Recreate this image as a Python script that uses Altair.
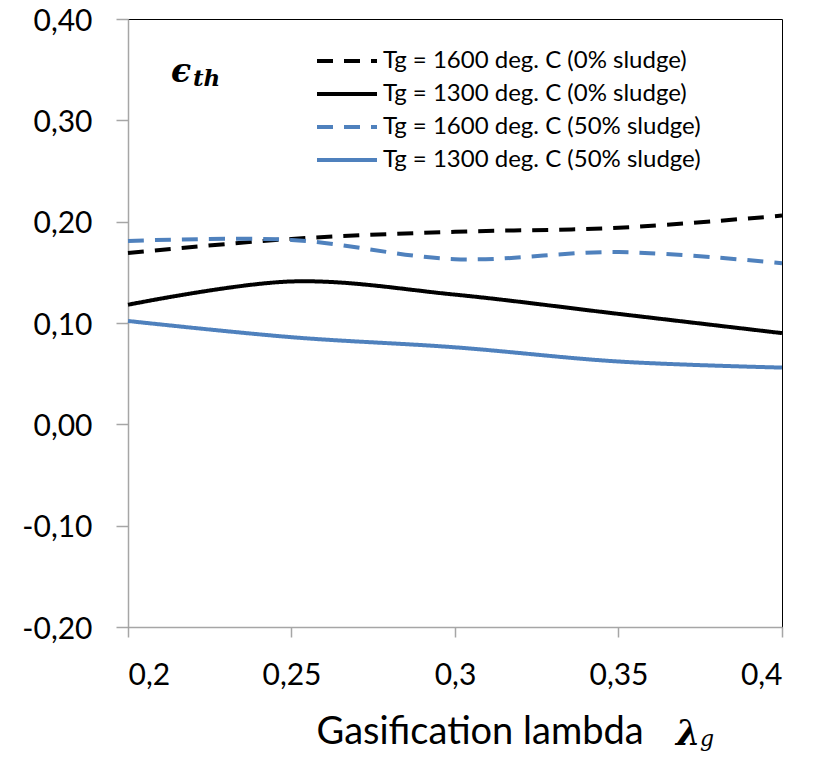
import altair as alt
import pandas as pd

# ---- data ----
lam = [0.2, 0.25, 0.3, 0.35, 0.4]
series_names = [
    "Tg = 1600 deg. C (0% sludge)",
    "Tg = 1300 deg. C (0% sludge)",
    "Tg = 1600 deg. C (50% sludge)",
    "Tg = 1300 deg. C (50% sludge)",
]
tg1600_0 = [0.169, 0.183, 0.190, 0.194, 0.206]
tg1300_0 = [0.118, 0.141, 0.128, 0.109, 0.090]
tg1600_50 = [0.181, 0.182, 0.163, 0.170, 0.159]
tg1300_50 = [0.102, 0.086, 0.076, 0.062, 0.056]

x_ticks = [0.2, 0.25, 0.3, 0.35, 0.4]
y_ticks = [-0.2, -0.1, 0.0, 0.1, 0.2, 0.3, 0.4]
x_title = "Gasification lambda"
eps_main, eps_sub = ["\u03f5"], ["th"]
lam_main, lam_sub = ["\u03bb"], ["g"]

colors = ["#000000", "#000000", "#4F81BD", "#4F81BD"]
dashes = [[16, 11], [1, 0], [16, 11], [1, 0]]

rows = []
for name, vals in zip(series_names, [tg1600_0, tg1300_0, tg1600_50, tg1300_50]):
    for x, y in zip(lam, vals):
        rows.append({"lambda": x, "eff": y, "series": name})
df = pd.DataFrame(rows)

W, H = 654, 608
FONT = "Lato"

legend = alt.Legend(
    title=None,
    orient="none",
    legendX=187,
    legendY=30,
    padding=0,
    symbolType="M-1,0H5",
    symbolSize=400,
    symbolStrokeWidth=4,
    labelFont=FONT,
    labelFontSize=24,
    labelColor="black",
    labelOffset=44,
    labelLimit=500,
    rowPadding=9,
)

lines = alt.Chart(df).mark_line(interpolate="catmull-rom", strokeWidth=4).encode(
    x=alt.X(
        "lambda:Q",
        scale=alt.Scale(domain=[0.2, 0.4], nice=False, zero=False),
        axis=alt.Axis(
            values=x_ticks,
            labelExpr="replace(format(datum.value, '.2~f'), '.', ',')",
            title=x_title,
            titleFont=FONT,
            titleFontSize=38,
            titleFontWeight="normal",
            titleColor="black",
            titleAlign="left",
            titleAnchor="start",
            titleX=188,
            titleY=116,
            titleBaseline="alphabetic",
            tickSize=10,
            labelPadding=23,
        ),
    ),
    y=alt.Y(
        "eff:Q",
        scale=alt.Scale(domain=[-0.2, 0.4], nice=False, zero=False),
        axis=alt.Axis(
            values=y_ticks,
            labelExpr="replace(replace(format(datum.value, '.2f'), '.', ','), '\u2212', '-')",
            title=None,
            tickSize=12,
            labelPadding=24,
            labelOffset=2,
        ),
    ),
    color=alt.Color(
        "series:N",
        scale=alt.Scale(domain=series_names, range=colors),
        sort=series_names,
        legend=legend,
    ),
    strokeDash=alt.StrokeDash(
        "series:N",
        scale=alt.Scale(domain=series_names, range=dashes),
        sort=series_names,
        legend=legend,
    ),
)

eps = alt.Chart(pd.DataFrame({"t": eps_main})).mark_text(
    font="DejaVu Serif", fontSize=33, fontWeight="bold", fontStyle="italic",
    align="left", baseline="alphabetic", color="black",
).encode(text="t:N", x=alt.value(43), y=alt.value(63))

eps_s = alt.Chart(pd.DataFrame({"t": eps_sub})).mark_text(
    font="DejaVu Serif", fontSize=23, fontWeight="bold", fontStyle="italic",
    align="left", baseline="alphabetic", color="black",
).encode(text="t:N", x=alt.value(65), y=alt.value(67))

lam_t = alt.Chart(pd.DataFrame({"t": lam_main})).mark_text(
    font="DejaVu Serif", fontSize=35, fontWeight="bold", fontStyle="italic",
    align="left", baseline="alphabetic", color="black",
).encode(text="t:N", x=alt.value(548), y=alt.value(726))

lam_s = alt.Chart(pd.DataFrame({"t": lam_sub})).mark_text(
    font="DejaVu Serif", fontSize=22, fontWeight="normal", fontStyle="italic",
    align="left", baseline="alphabetic", color="black",
).encode(text="t:N", x=alt.value(572), y=alt.value(727))

chart = alt.layer(lines, eps, eps_s, lam_t, lam_s).properties(
    width=W,
    height=H,
    autosize=alt.AutoSizeParams(type="none"),
    padding={"left": 120, "top": 11, "right": 29, "bottom": 125},
).configure_view(
    stroke="black", strokeWidth=1
).configure_axis(
    grid=False,
    domainColor="#A6A6A6",
    domainWidth=1.5,
    tickColor="#A6A6A6",
    tickWidth=1.5,
    labelFont=FONT,
    labelFontSize=30,
    labelColor="black",
)

chart.save("out.html", embed_options={"renderer": "svg", "actions": False})
